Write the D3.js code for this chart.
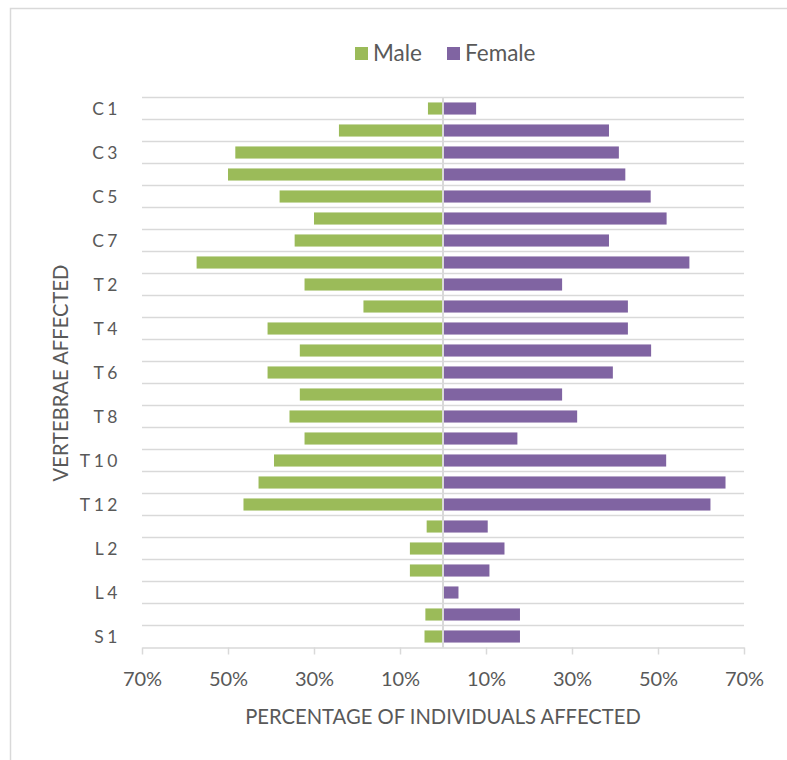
<!DOCTYPE html>
<html>
<head>
<meta charset="utf-8">
<script src="https://cdn.jsdelivr.net/npm/d3@7"></script>
<style>
  html, body { margin: 0; padding: 0; background: #fff; }
  svg { display: block; font-family: Lato, "Open Sans", sans-serif; }
</style>
</head>
<body>
<svg id="chart" width="787" height="760"></svg>
<script>
// Vertebrae, top of the spine first
const categories = [
  "C1","C2","C3","C4","C5","C6","C7",
  "T1","T2","T3","T4","T5","T6","T7","T8","T9","T10","T11","T12",
  "L1","L2","L3","L4","L5","S1"
];
// Share of individuals affected (fraction), by sex
const maleValues = [
  0.035, 0.242, 0.483, 0.500, 0.380, 0.300, 0.345,
  0.573, 0.322, 0.185, 0.408, 0.333, 0.408, 0.333, 0.357, 0.322, 0.393, 0.429, 0.464,
  0.038, 0.077, 0.077, 0.000, 0.041, 0.043
];
const femaleValues = [
  0.077, 0.386, 0.409, 0.424, 0.483, 0.520, 0.386,
  0.573, 0.277, 0.430, 0.430, 0.484, 0.395, 0.277, 0.312, 0.173, 0.519, 0.657, 0.622,
  0.104, 0.143, 0.108, 0.036, 0.179, 0.179
];
const xTicks = [-0.7, -0.5, -0.3, -0.1, 0.1, 0.3, 0.5, 0.7];
const seriesNames = ["Male", "Female"];
const seriesColors = ["#9BBB59", "#8064A2"];

const svg = d3.select("#chart");
const textColor = "#595959";
const gridColor = "#d9d9d9";

// Outer chart frame
svg.append("rect")
  .attr("x", 10.5).attr("y", 8.5)
  .attr("width", 800).attr("height", 800)
  .attr("fill", "none").attr("stroke", gridColor).attr("stroke-width", 1.5);

const plot = { left: 142, right: 744, top: 97.5, bottom: 647.5 };

const x = d3.scaleLinear().domain([-0.7, 0.7]).range([plot.left, plot.right]);
const y = d3.scaleBand().domain(categories)
  .range([plot.top, plot.bottom])
  .paddingInner(0.45).paddingOuter(0.225);

// Horizontal gridlines on category boundaries
const step = y.step();
const boundaries = d3.range(categories.length).map(i => plot.top + i * step);
svg.append("g").selectAll("line").data(boundaries).join("line")
  .attr("x1", plot.left).attr("x2", plot.right)
  .attr("y1", d => d).attr("y2", d => d)
  .attr("stroke", gridColor).attr("stroke-width", 1.5);

// Bars
const rows = categories.map((c, i) => ({ c, m: maleValues[i], f: femaleValues[i] }));
const bars = svg.append("g");
bars.selectAll("rect.male").data(rows).join("rect")
  .attr("class", "male")
  .attr("x", d => x(-d.m)).attr("width", d => x(0) - x(-d.m))
  .attr("y", d => y(d.c)).attr("height", y.bandwidth())
  .attr("fill", seriesColors[0]);
bars.selectAll("rect.female").data(rows).join("rect")
  .attr("class", "female")
  .attr("x", x(0)).attr("width", d => x(d.f) - x(0))
  .attr("y", d => y(d.c)).attr("height", y.bandwidth())
  .attr("fill", seriesColors[1]);

// Vertical category axis line at zero
svg.append("line")
  .attr("x1", x(0)).attr("x2", x(0))
  .attr("y1", plot.top).attr("y2", plot.bottom)
  .attr("stroke", gridColor).attr("stroke-width", 2);

// Bottom value axis
const xAxis = d3.axisBottom(x)
  .tickValues(xTicks)
  .tickSize(7)
  .tickSizeOuter(0)
  .tickPadding(17)
  .tickFormat(d => Math.round(Math.abs(d) * 100) + "%");
const gx = svg.append("g")
  .attr("transform", `translate(0,${plot.bottom})`)
  .call(xAxis);
gx.select(".domain").attr("stroke", gridColor).attr("stroke-width", 1.5);
gx.selectAll(".tick line").attr("stroke", gridColor).attr("stroke-width", 1.5);
gx.selectAll(".tick text")
  .attr("fill", textColor)
  .style("font-size", "20px")
  .style("font-family", "Lato, sans-serif");

// Category labels, every other vertebra
const yAxis = d3.axisLeft(y)
  .tickValues(categories.filter((c, i) => i % 2 === 0))
  .tickSize(0)
  .tickPadding(0);
const gy = svg.append("g")
  .attr("transform", `translate(121,1)`)
  .call(yAxis);
gy.select(".domain").remove();
gy.selectAll(".tick text")
  .attr("fill", textColor)
  .style("font-size", "17.5px")
  .style("letter-spacing", "3.5px")
  .style("font-family", "Lato, sans-serif");

// Axis titles
svg.append("text")
  .attr("x", 443).attr("y", 724)
  .attr("text-anchor", "middle")
  .attr("fill", textColor)
  .style("font-size", "20.2px")
  .text("PERCENTAGE OF INDIVIDUALS AFFECTED");

svg.append("text")
  .attr("transform", "translate(68,373) rotate(-90)")
  .attr("text-anchor", "middle")
  .attr("fill", textColor)
  .style("font-size", "20.2px")
  .text("VERTEBRAE AFFECTED");

// Legend
const legendItems = [
  { name: seriesNames[0], color: seriesColors[0], x: 355 },
  { name: seriesNames[1], color: seriesColors[1], x: 447 }
];
const lg = svg.append("g").selectAll("g").data(legendItems).join("g")
  .attr("transform", d => `translate(${d.x},47)`);
lg.append("rect").attr("width", 13).attr("height", 13).attr("fill", d => d.color);
lg.append("text")
  .attr("x", 18).attr("y", 14)
  .attr("fill", textColor)
  .style("font-size", "22.5px")
  .text(d => d.name);
</script>
</body>
</html>
